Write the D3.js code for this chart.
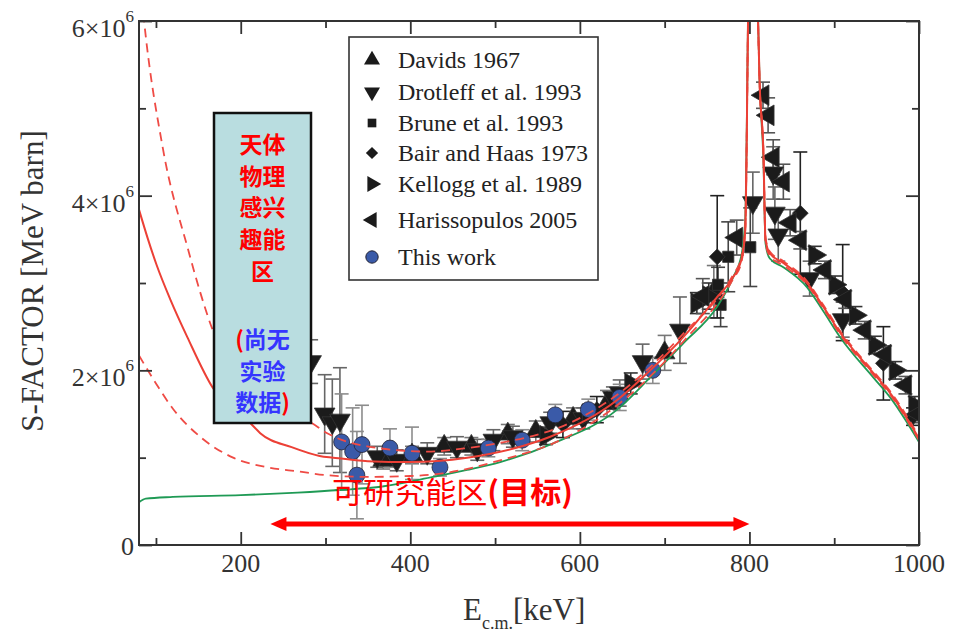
<!DOCTYPE html>
<html>
<head>
<meta charset="utf-8">
<script src="https://cdn.jsdelivr.net/npm/d3@7"></script>
<style>
    body { margin: 0; background: #fff; }
    svg { display: block; }
</style>
</head>
<body>
<div id="chart"></div>
<script>
// ---- axis ticks (S-factor in units of 1e6 MeV b) ----
var x_major = [200, 400, 600, 800, 1000];
var x_minor = [100, 300, 500, 700, 900];
var y_major = [0, 2, 4, 6];
var y_minor = [1, 3, 5];

// ---- model curves, [E keV, S] ----
var fit_solid = [[80, 3.84], [90, 3.52], [101, 3.2], [117, 2.81], [137, 2.38], [167, 1.8], [211, 1.4], [223, 1.28],
    [260, 1.12], [293, 1.02], [309, 1.0], [350, 0.96], [400, 0.95], [467, 1.0], [545, 1.17], [565, 1.24],
    [644, 1.66], [683, 2.0], [722, 2.38], [762, 2.84], [781, 3.07], [790, 3.25], [795, 3.6], [799, 6.5],
    [804, 9], [809, 6.5], [812, 5.3], [816.5, 4.49], [819, 3.49], [824, 3.34], [840, 3.23], [868, 3.0],
    [887, 2.73], [907, 2.43], [946, 1.97], [966, 1.74], [1000, 1.22]];
var fit_upper = [[80, 6.6], [86, 6.0], [108, 4.55], [138, 3.38], [152, 2.9], [167, 2.46], [200, 1.95], [240, 1.6],
    [283, 1.4], [302, 1.28], [349, 1.13], [420, 1.07], [467, 1.11], [506, 1.17], [545, 1.25], [577, 1.35],
    [644, 1.72], [722, 2.42], [781, 3.1], [790, 3.27], [795, 3.6], [799, 6.5], [804, 9], [809, 6.5],
    [812, 5.3], [816.5, 4.49], [819, 3.52], [824, 3.36], [840, 3.25], [868, 3.02], [887, 2.75], [907, 2.45],
    [946, 1.99], [966, 1.76], [1000, 1.24]];
var fit_lower = [[80, 2.17], [100, 1.85], [120, 1.56], [152, 1.24], [191, 1.0], [231, 0.89], [270, 0.84],
    [300, 0.8], [349, 0.78], [400, 0.79], [438, 0.82], [506, 0.97], [577, 1.2], [644, 1.6], [722, 2.33],
    [781, 3.05], [790, 3.22], [795, 3.6], [799, 6.5], [804, 9], [809, 6.5], [812, 5.3], [816.5, 4.49],
    [819, 3.46], [824, 3.31], [840, 3.2], [868, 2.98], [887, 2.71], [907, 2.41], [946, 1.95], [966, 1.72],
    [1000, 1.2]];
var fit_green = [[80, 0.49], [88, 0.53], [120, 0.55], [200, 0.57], [267, 0.6], [317, 0.63], [367, 0.67],
    [427, 0.78], [467, 0.86], [506, 0.95], [570, 1.17], [644, 1.55], [683, 1.92], [722, 2.31], [762, 2.73],
    [781, 3.07], [791, 3.34], [795, 3.72], [799, 6.5], [804, 9], [809, 6.5], [812, 5.3], [816.5, 4.4],
    [819, 3.45], [824, 3.28], [840, 3.18], [868, 2.95], [887, 2.68], [907, 2.38], [946, 1.92], [966, 1.69],
    [1000, 1.18]];

// ---- measurements, [E keV, S, error] ----
var davids = [[368, 0.97, 0.1], [402, 1.03, 0.1], [440, 1.13, 0.1], [472, 1.13, 0.1], [515, 1.27, 0.11],
    [548, 1.3, 0.12], [592, 1.45, 0.12], [632, 1.62, 0.15], [700, 2.2, 0.2], [758, 2.9, 0.3]];
var drotleff = [[283, 2.1, 0.25], [299, 1.5, 0.45], [308, 1.4, 0.5], [317, 1.43, 0.6], [361, 1.01, 0.12],
    [384, 0.97, 0.12], [420, 1.05, 0.12], [455, 1.12, 0.12], [479, 1.09, 0.12], [498, 1.2, 0.12],
    [521, 1.24, 0.12], [565, 1.4, 0.12], [604, 1.45, 0.12], [639, 1.69, 0.12], [647, 1.74, 0.15],
    [674, 2.1, 0.2], [718, 2.46, 0.38], [804, 3.92, 0.35], [828, 4.26, 0.3], [830, 3.8, 0.3],
    [834, 3.55, 0.3], [871, 3.05, 0.2], [910, 2.58, 0.2]];
var brune = [[763, 2.98, 0.2], [766, 2.75, 0.25], [775, 3.3, 0.4], [801, 3.41, 0.45]];
var bair_haas = [[580, 1.38, 0.15], [620, 1.55, 0.15], [762, 3.3, 0.7], [860, 3.8, 0.7], [910, 2.89, 0.55],
    [958, 2.08, 0.42], [993, 1.47, 0.1]];
var kellogg = [[560, 1.25, 0.1], [610, 1.5, 0.1], [660, 1.85, 0.12], [738, 2.77, 0.12], [752, 2.85, 0.15],
    [877, 3.32, 0.1], [901, 2.98, 0.1], [925, 2.63, 0.1], [948, 2.29, 0.1], [972, 2.0, 0.1], [995, 1.6, 0.1]];
var harissopulos = [[745, 2.85, 0.2], [785, 3.52, 0.2], [816, 5.15, 0.15], [822, 4.92, 0.2], [828, 4.44, 0.2],
    [840, 4.16, 0.2], [848, 3.69, 0.15], [860, 3.49, 0.1], [889, 3.15, 0.1], [913, 2.81, 0.1],
    [936, 2.46, 0.1], [960, 2.18, 0.1], [984, 1.83, 0.1], [999, 1.5, 0.1]];
var this_work = [[319, 1.18, 0.55], [332, 1.07, 0.5], [343, 1.15, 0.45], [337, 0.8, 0.5], [376, 1.11, 0.22],
    [402, 1.05, 0.3], [435, 0.89, 0.1], [492, 1.11, 0.1], [532, 1.2, 0.12], [571, 1.49, 0.12],
    [610, 1.55, 0.12], [647, 1.69, 0.15], [686, 2.0, 0.15]];

var legend_labels = ['Davids 1967', 'Drotleff et al. 1993', 'Brune et al. 1993', 'Bair and Haas 1973',
    'Kellogg et al. 1989', 'Harissopulos 2005', 'This work'];

var series = [
    {data: davids, shape: 'tri', rot: 0, fill: '#1b1b1b', bar: '#777'},
    {data: drotleff, shape: 'tri', rot: 180, fill: '#1b1b1b', bar: '#666'},
    {data: brune, shape: 'square', rot: 0, fill: '#1b1b1b', bar: '#444'},
    {data: bair_haas, shape: 'square', rot: 45, fill: '#1b1b1b', bar: '#222'},
    {data: kellogg, shape: 'tri', rot: 90, fill: '#1b1b1b', bar: '#333'},
    {data: harissopulos, shape: 'tri', rot: -90, fill: '#1b1b1b', bar: '#555'},
    {data: this_work, shape: 'circle', rot: 0, fill: '#3a5aa8', bar: '#8c8c8c'}
];

var serif = '"Liberation Serif", "DejaVu Serif", serif';
var cjk = '"Noto Sans CJK SC", sans-serif';

var svg = d3.select('#chart').append('svg').attr('width', 957).attr('height', 634);
svg.append('rect').attr('width', 957).attr('height', 634).attr('fill', '#fff');

var x = d3.scaleLinear().domain([80, 1000]).range([139, 919]);
var y = d3.scaleLinear().domain([0, 6]).range([545, 21]);

svg.append('clipPath').attr('id', 'plot-clip')
    .append('rect').attr('x', 139).attr('y', 21).attr('width', 780).attr('height', 524);

/**
 * Returns the path of a marker shape
 * @param shape
 * @param size
 */
function marker_path(shape, size) {
    var types = {tri: d3.symbolTriangle, square: d3.symbolSquare, circle: d3.symbolCircle};
    return d3.symbol(types[shape], size)();
}

function marker_size(shape, scale) {
    var sizes = {tri: 185, square: 125, circle: 200};
    return sizes[shape] * scale;
}

// ---- measurements (drawn below the curves) ----
var g_data = svg.append('g').attr('clip-path', 'url(#plot-clip)');

series.forEach(function (s) {
    var g = g_data.append('g');
    s.data.forEach(function (d) {
        var cx = x(d[0]);
        g.append('line').attr('x1', cx).attr('x2', cx)
            .attr('y1', y(d[1] - d[2])).attr('y2', y(d[1] + d[2]))
            .attr('stroke', s.bar).attr('stroke-width', 1.6);
        [d[1] - d[2], d[1] + d[2]].forEach(function (v) {
            g.append('line').attr('x1', cx - 7).attr('x2', cx + 7)
                .attr('y1', y(v)).attr('y2', y(v))
                .attr('stroke', s.bar).attr('stroke-width', 1.6);
        });
    });
});

series.forEach(function (s) {
    g_data.append('g').selectAll('path').data(s.data).enter().append('path')
        .attr('d', marker_path(s.shape, marker_size(s.shape, 1)))
        .attr('transform', function (d) {
            return 'translate(' + x(d[0]) + ',' + y(d[1]) + ') rotate(' + s.rot + ')';
        })
        .attr('fill', s.fill)
        .attr('stroke', s.shape === 'circle' ? '#223' : '#333')
        .attr('stroke-width', 0.8);
});

// ---- model curves ----
var line = d3.line().x(function (d) { return x(d[0]); }).y(function (d) { return y(d[1]); })
    .curve(d3.curveMonotoneX);
var g_curves = svg.append('g').attr('clip-path', 'url(#plot-clip)').attr('fill', 'none');

g_curves.append('path').attr('d', line(fit_green)).attr('stroke', '#1f9a55').attr('stroke-width', 1.8);
g_curves.append('path').attr('d', line(fit_upper)).attr('stroke', '#ef4b45').attr('stroke-width', 1.8)
    .attr('stroke-dasharray', '9,6');
g_curves.append('path').attr('d', line(fit_lower)).attr('stroke', '#ef4b45').attr('stroke-width', 1.8)
    .attr('stroke-dasharray', '9,6');
g_curves.append('path').attr('d', line(fit_solid)).attr('stroke', '#ec4036').attr('stroke-width', 2);

// ---- frame and ticks ----
function tick_axis(axis, transform, values, size) {
    svg.append('g').attr('transform', transform)
        .call(axis.tickValues(values).tickSize(size).tickSizeOuter(0).tickFormat(''))
        .call(function (g) { g.select('.domain').remove(); })
        .selectAll('line').attr('stroke', '#333').attr('stroke-width', 1.8);
}
tick_axis(d3.axisBottom(x), 'translate(0,545)', x_major, -13);
tick_axis(d3.axisBottom(x), 'translate(0,545)', x_minor, -7);
tick_axis(d3.axisTop(x), 'translate(0,21)', x_major, -13);
tick_axis(d3.axisTop(x), 'translate(0,21)', x_minor, -7);
tick_axis(d3.axisLeft(y), 'translate(139,0)', y_major, -13);
tick_axis(d3.axisLeft(y), 'translate(139,0)', y_minor, -7);
tick_axis(d3.axisRight(y), 'translate(919,0)', y_major, -13);
tick_axis(d3.axisRight(y), 'translate(919,0)', y_minor, -7);

svg.append('rect').attr('x', 139).attr('y', 21).attr('width', 780).attr('height', 524)
    .attr('fill', 'none').attr('stroke', '#333').attr('stroke-width', 2);

// tick labels
svg.append('g').selectAll('text').data(x_major).enter().append('text')
    .attr('x', function (d) { return x(d); }).attr('y', 572)
    .attr('text-anchor', 'middle').attr('font-family', serif).attr('font-size', 26).attr('fill', '#333')
    .text(function (d) { return d; });

y_major.forEach(function (v) {
    var t = svg.append('text').attr('x', 134).attr('text-anchor', 'end')
        .attr('font-family', serif).attr('font-size', 26).attr('fill', '#333');
    if (v === 0) {
        t.attr('y', y(v) + 10).text('0');
    } else {
        t.attr('y', y(v) + 16);
        t.append('tspan').text(v + '\u00d710');
        t.append('tspan').attr('font-size', 17).attr('dy', -15).text('6');
    }
});

// axis titles
svg.append('text').attr('transform', 'translate(43,281) rotate(-90)').attr('text-anchor', 'middle')
    .attr('font-family', serif).attr('font-size', 31).attr('fill', '#333').text('S-FACTOR [MeV barn]');

var xt = svg.append('text').attr('x', 463).attr('y', 620)
    .attr('font-family', serif).attr('font-size', 31).attr('fill', '#333');
xt.append('tspan').text('E');
xt.append('tspan').attr('font-size', 18).attr('dy', 9).text('c.m.');
xt.append('tspan').attr('dy', -9).text('[keV]');

// ---- legend ----
var legend = svg.append('g');
legend.append('rect').attr('x', 349).attr('y', 37).attr('width', 249).attr('height', 243)
    .attr('fill', '#fff').attr('stroke', '#333').attr('stroke-width', 1.6);
var legend_y = [60, 92, 123, 153, 184, 220, 257];
series.forEach(function (s, i) {
    legend.append('path').attr('d', marker_path(s.shape, marker_size(s.shape, 0.6)))
        .attr('transform', 'translate(372,' + legend_y[i] + ') rotate(' + s.rot + ')')
        .attr('fill', s.fill).attr('stroke', s.shape === 'circle' ? '#223' : 'none');
    legend.append('text').attr('x', 398).attr('y', legend_y[i] + 8)
        .attr('font-family', serif).attr('font-size', 24).attr('fill', '#222')
        .text(legend_labels[i]);
});

// ---- annotations ----
var note = svg.append('g');
note.append('rect').attr('x', 214).attr('y', 113).attr('width', 97).attr('height', 310)
    .attr('fill', '#b9dde0').attr('stroke', '#111').attr('stroke-width', 2.5);

// one text element, one tspan row per line
var note_lines = [
    [['#ff0000', '天体']], [['#ff0000', '物理']], [['#ff0000', '感兴']], [['#ff0000', '趣能']], [['#ff0000', '区']],
    [['#ff0000', '('], ['#3535ff', '尚无']], [['#3535ff', '实验']], [['#3535ff', '数据'], ['#ff0000', ')']]
];
var note_line_y = [153, 185, 216, 248, 280, 348, 380, 411];
var note_text = note.append('text').attr('text-anchor', 'middle').attr('font-family', cjk)
    .attr('font-weight', 'bold').attr('font-size', 23);
note_lines.forEach(function (parts, i) {
    parts.forEach(function (p, j) {
        var ts = note_text.append('tspan').attr('fill', p[0]).text(p[1]);
        if (j === 0) ts.attr('x', 262.5).attr('y', note_line_y[i]);
    });
});

var target = svg.append('text').attr('x', 332).attr('y', 503).attr('font-family', cjk)
    .attr('font-size', 30).attr('fill', '#ff0000')
    .attr('textLength', 241).attr('lengthAdjust', 'spacingAndGlyphs');
target.append('tspan').text('可研究能区');
target.append('tspan').attr('font-weight', 'bold').text('(目标)');

// double arrow over the energy window
var ax1 = x(235), ax2 = x(800), ay = 524;
svg.append('line').attr('x1', ax1 + 10).attr('x2', ax2 - 10).attr('y1', ay).attr('y2', ay)
    .attr('stroke', '#ff0000').attr('stroke-width', 5);
svg.append('path').attr('fill', '#ff0000')
    .attr('d', 'M' + ax1 + ',' + ay + 'L' + (ax1 + 16) + ',' + (ay - 7) + 'L' + (ax1 + 16) + ',' + (ay + 7) + 'Z');
svg.append('path').attr('fill', '#ff0000')
    .attr('d', 'M' + ax2 + ',' + ay + 'L' + (ax2 - 16) + ',' + (ay - 7) + 'L' + (ax2 - 16) + ',' + (ay + 7) + 'Z');
</script>
</body>
</html>
